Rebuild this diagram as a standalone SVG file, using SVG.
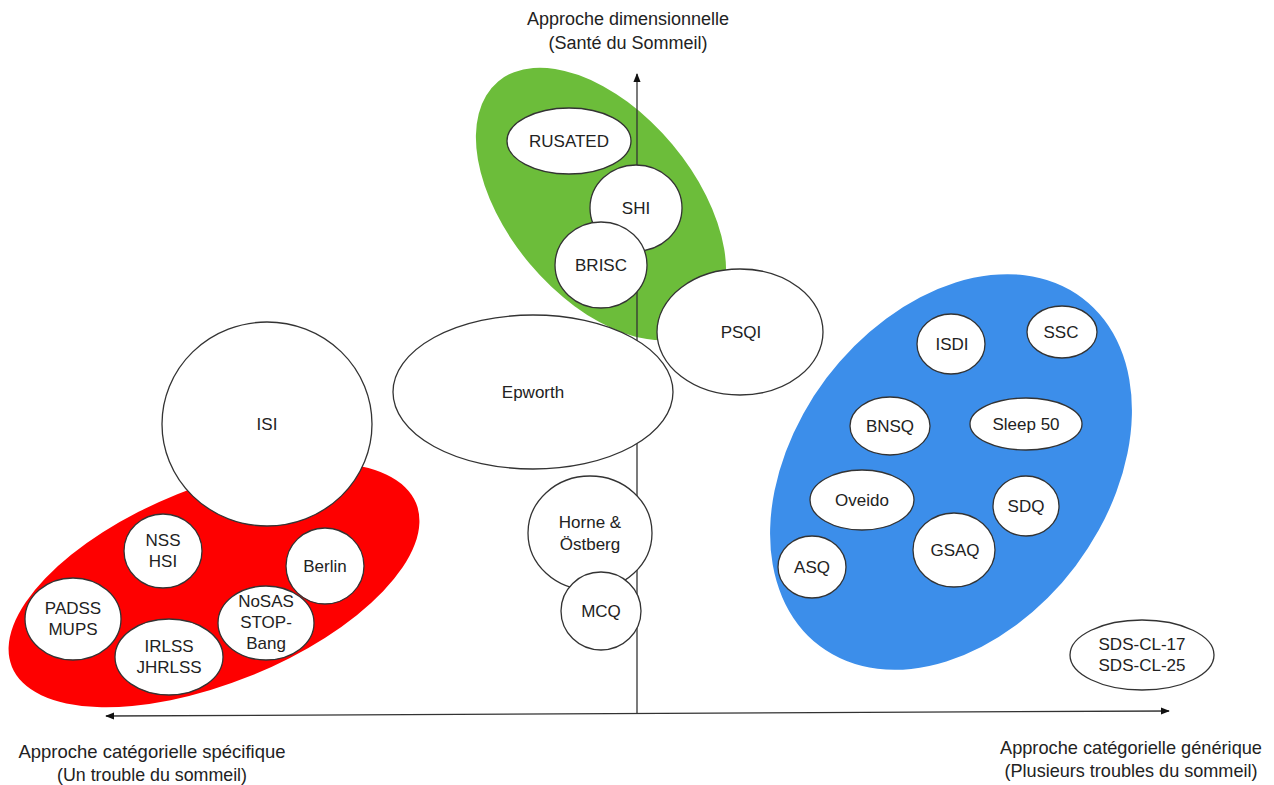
<svg xmlns="http://www.w3.org/2000/svg" width="1274" height="785" viewBox="0 0 1274 785">
<defs>
<style>
.n{fill:#fff;stroke:#333;stroke-width:1.3}
.t{font-family:"Liberation Sans",Arial,Helvetica,sans-serif;font-size:17px;fill:#222;text-anchor:middle}
.ax{font-family:"Liberation Sans",Arial,Helvetica,sans-serif;font-size:18px;fill:#222;text-anchor:middle}
.axl{stroke:#333;stroke-width:1.3;fill:none}
</style>
<marker id="ah" viewBox="0 0 10 10" refX="9" refY="5" markerWidth="9" markerHeight="9" markerUnits="userSpaceOnUse" orient="auto-start-reverse">
<path d="M0,1 L10,5 L0,9 z" fill="#111"/>
</marker>
</defs>
<rect width="1274" height="785" fill="#fff"/>

<g id="groups">
<ellipse id="green-zone" cx="601" cy="204" rx="160" ry="93" transform="rotate(50 601 204)" fill="#6cbd3a"/>
<ellipse id="red-zone" cx="214" cy="585" rx="218" ry="98" transform="rotate(-22 214 585)" fill="#fe0000"/>
<ellipse id="blue-zone" cx="951" cy="472" rx="218" ry="156" transform="rotate(-53 951 472)" fill="#3c8eea"/>
</g>

<g id="connectors">
<line class="axl" x1="637" y1="713" x2="637" y2="74" marker-end="url(#ah)"/>
<line class="axl" x1="106" y1="716" x2="1169" y2="711" marker-start="url(#ah)" marker-end="url(#ah)"/>
</g>

<g id="node-rusated"><ellipse class="n" cx="569" cy="141" rx="62" ry="33"/><text class="t" x="569" y="147">RUSATED</text></g>
<g id="node-shi"><ellipse class="n" cx="636" cy="208" rx="46" ry="43"/><text class="t" x="636" y="214">SHI</text></g>
<g id="node-brisc"><ellipse class="n" cx="601" cy="265" rx="46" ry="43"/><text class="t" x="601" y="271">BRISC</text></g>
<g id="node-psqi"><ellipse class="n" cx="740" cy="332" rx="83" ry="63"/><text class="t" x="741" y="338">PSQI</text></g>
<g id="node-epworth"><ellipse class="n" cx="533" cy="392" rx="140" ry="77"/><text class="t" x="533" y="398">Epworth</text></g>
<g id="node-isi"><ellipse class="n" cx="267" cy="424" rx="105" ry="102"/><text class="t" x="267" y="430">ISI</text></g>

<g id="node-nss"><ellipse class="n" cx="163" cy="551" rx="39" ry="37"/><text class="t" x="163" y="546">NSS</text><text class="t" x="163" y="567">HSI</text></g>
<g id="node-berlin"><ellipse class="n" cx="325" cy="566" rx="39" ry="38"/><text class="t" x="325" y="572">Berlin</text></g>
<g id="node-padss"><ellipse class="n" cx="73" cy="619" rx="48" ry="41"/><text class="t" x="73" y="614">PADSS</text><text class="t" x="73" y="635">MUPS</text></g>
<g id="node-irlss"><ellipse class="n" cx="169" cy="657" rx="54" ry="38"/><text class="t" x="169" y="652">IRLSS</text><text class="t" x="169" y="673">JHRLSS</text></g>
<g id="node-nosas"><ellipse class="n" cx="266" cy="623" rx="48" ry="37"/><text class="t" x="266" y="607">NoSAS</text><text class="t" x="266" y="628">STOP-</text><text class="t" x="266" y="649">Bang</text></g>

<g id="node-horne"><ellipse class="n" cx="590" cy="533" rx="62" ry="57"/><text class="t" x="590" y="528">Horne &amp;</text><text class="t" x="590" y="550">Östberg</text></g>
<g id="node-mcq"><ellipse class="n" cx="601" cy="611" rx="40" ry="39"/><text class="t" x="601" y="617">MCQ</text></g>

<g id="node-isdi"><ellipse class="n" cx="951" cy="344" rx="34" ry="30"/><text class="t" x="952" y="350">ISDI</text></g>
<g id="node-ssc"><ellipse class="n" cx="1062" cy="332" rx="35" ry="26"/><text class="t" x="1061" y="338">SSC</text></g>
<g id="node-bnsq"><ellipse class="n" cx="890" cy="426" rx="40" ry="29"/><text class="t" x="890" y="432">BNSQ</text></g>
<g id="node-sleep50"><ellipse class="n" cx="1026" cy="424" rx="56" ry="26"/><text class="t" x="1026" y="430">Sleep 50</text></g>
<g id="node-oveido"><ellipse class="n" cx="862" cy="500" rx="52" ry="30"/><text class="t" x="862" y="506">Oveido</text></g>
<g id="node-sdq"><ellipse class="n" cx="1026" cy="506" rx="33" ry="30"/><text class="t" x="1026" y="512">SDQ</text></g>
<g id="node-gsaq"><ellipse class="n" cx="954" cy="550" rx="41" ry="37"/><text class="t" x="955" y="556">GSAQ</text></g>
<g id="node-asq"><ellipse class="n" cx="812" cy="567" rx="34" ry="31"/><text class="t" x="812" y="573">ASQ</text></g>
<g id="node-sdscl"><ellipse class="n" cx="1142" cy="655" rx="72" ry="35"/><text class="t" x="1142" y="650">SDS-CL-17</text><text class="t" x="1142" y="671">SDS-CL-25</text></g>

<g id="axis-labels">
<text class="ax" x="628" y="25">Approche dimensionnelle</text>
<text class="ax" x="628" y="49">(Santé du Sommeil)</text>
<text class="ax" x="152" y="758" textLength="267" lengthAdjust="spacingAndGlyphs" style="font-size:19px">Approche catégorielle spécifique</text>
<text class="ax" x="152" y="781" textLength="190" lengthAdjust="spacingAndGlyphs" style="font-size:19px">(Un trouble du sommeil)</text>
<text class="ax" x="1131" y="754" textLength="262" lengthAdjust="spacingAndGlyphs" style="font-size:19px">Approche catégorielle générique</text>
<text class="ax" x="1131" y="777" textLength="253" lengthAdjust="spacingAndGlyphs" style="font-size:19px">(Plusieurs troubles du sommeil)</text>
</g>
</svg>
